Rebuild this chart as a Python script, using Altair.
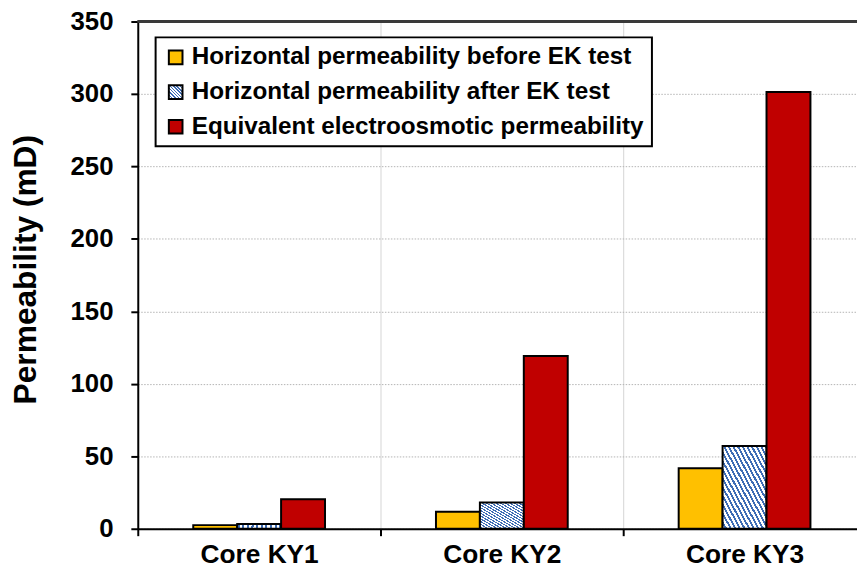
import altair as alt
import pandas as pd

cores = ["Core KY1", "Core KY2", "Core KY3"]
series = [
    "Horizontal permeability before EK test",
    "Horizontal permeability after EK test",
    "Equivalent electroosmotic permeability",
]
before_ek = [2.5, 11.7, 41.8]
after_ek = [3.3, 18.1, 57.1]
electroosmotic = [20.3, 119.2, 301.3]

rows = []
for i, c in enumerate(cores):
    rows.append({"core": c, "series": series[0], "value": before_ek[i]})
    rows.append({"core": c, "series": series[1], "value": after_ek[i]})
    rows.append({"core": c, "series": series[2], "value": electroosmotic[i]})
df = pd.DataFrame(rows)

# diagonal hatch approximated with a hard-stop linear gradient
N = 19
stops = []
for k in range(N):
    a = k / N
    b = (k + 0.45) / N
    e = (k + 1) / N
    stops.append("{offset: %.4f, color: '#3E6DB5'}" % a)
    stops.append("{offset: %.4f, color: '#3E6DB5'}" % b)
    stops.append("{offset: %.4f, color: '#FFFFFF'}" % b)
    stops.append("{offset: %.4f, color: '#FFFFFF'}" % e)
hatch_expr = "{gradient: 'linear', x1: 1, y1: 0, x2: 0, y2: 1, stops: [" + ", ".join(stops) + "]}"

FONT = "Liberation Sans"

bars = alt.Chart(df).mark_bar(stroke="black", strokeWidth=2).encode(
    x=alt.X(
        "core:N",
        sort=cores,
        scale=alt.Scale(domain=cores, paddingInner=0, paddingOuter=0),
        axis=alt.Axis(
            title=None,
            tickBand="extent",
            grid=True,
            gridColor="#d4d4d4",
            gridWidth=1,
            domainColor="black",
            domainWidth=2,
            tickColor="black",
            tickWidth=2,
            tickSize=7,
            labelFont=FONT,
            labelFontSize=26.5,
            labelFontWeight="bold",
            labelColor="black",
            labelPadding=6,
            labelAngle=0,
        ),
    ),
    xOffset=alt.XOffset(
        "series:N",
        sort=series,
        scale=alt.Scale(domain=series, range=[56, 189], paddingOuter=0, paddingInner=0),
    ),
    y=alt.Y(
        "value:Q",
        scale=alt.Scale(domain=[0, 350], nice=False),
        axis=alt.Axis(
            title="Permeability (mD)",
            titleFont=FONT,
            titleFontSize=32,
            titleFontWeight="bold",
            titleColor="black",
            titleX=-96,
            titleY=250,
            values=list(range(0, 351, 25)),
            labelExpr="datum.value % 50 == 0 ? datum.label : ''",
            grid=True,
            gridColor={"condition": {"test": "datum.value % 50 === 0", "value": "#b4b4b4"}, "value": "#dadada"},
            gridDash={"condition": {"test": "datum.value % 50 === 0", "value": [1.5, 1.5]}, "value": []},
            gridWidth=1,
            domainColor="black",
            domainWidth=2,
            tickColor="black",
            tickWidth=2,
            tickSize=7,
            labelFont=FONT,
            labelFontSize=26,
            labelFontWeight="bold",
            labelColor="black",
            labelPadding=18,
        ),
    ),
    fill=alt.Fill(
        "series:N",
        sort=series,
        scale=alt.Scale(domain=series, range=["#FFC000", {"expr": hatch_expr}, "#C00000"]),
        legend=alt.Legend(
            title=None,
            orient="none",
            legendX=18,
            legendY=16,
            fillColor="white",
            strokeColor="black",
            padding=8,
            symbolType="square",
            symbolSize=190,
            symbolStrokeColor="black",
            symbolStrokeWidth=2,
            symbolOpacity=1,
            labelFont=FONT,
            labelFontSize=24.5,
            labelFontWeight="bold",
            labelColor="black",
            labelLimit=0,
            labelOffset=4,
            rowPadding=10,
        ),
    ),
)

top_line = alt.Chart(df).mark_rule(color="#3a3a3a", strokeWidth=2).encode(
    y=alt.datum(350)
)

chart = (
    alt.layer(bars, top_line)
    .properties(
        width=735,
        height=512,
        autosize=alt.AutoSizeParams(type="none"),
        padding={"left": 131, "top": 11, "right": -9, "bottom": 40},
    )
    .configure_view(strokeWidth=0)
    .configure_legend(strokeWidth=2)
)

chart.save("out.html", embed_options={"renderer": "svg", "actions": False})
